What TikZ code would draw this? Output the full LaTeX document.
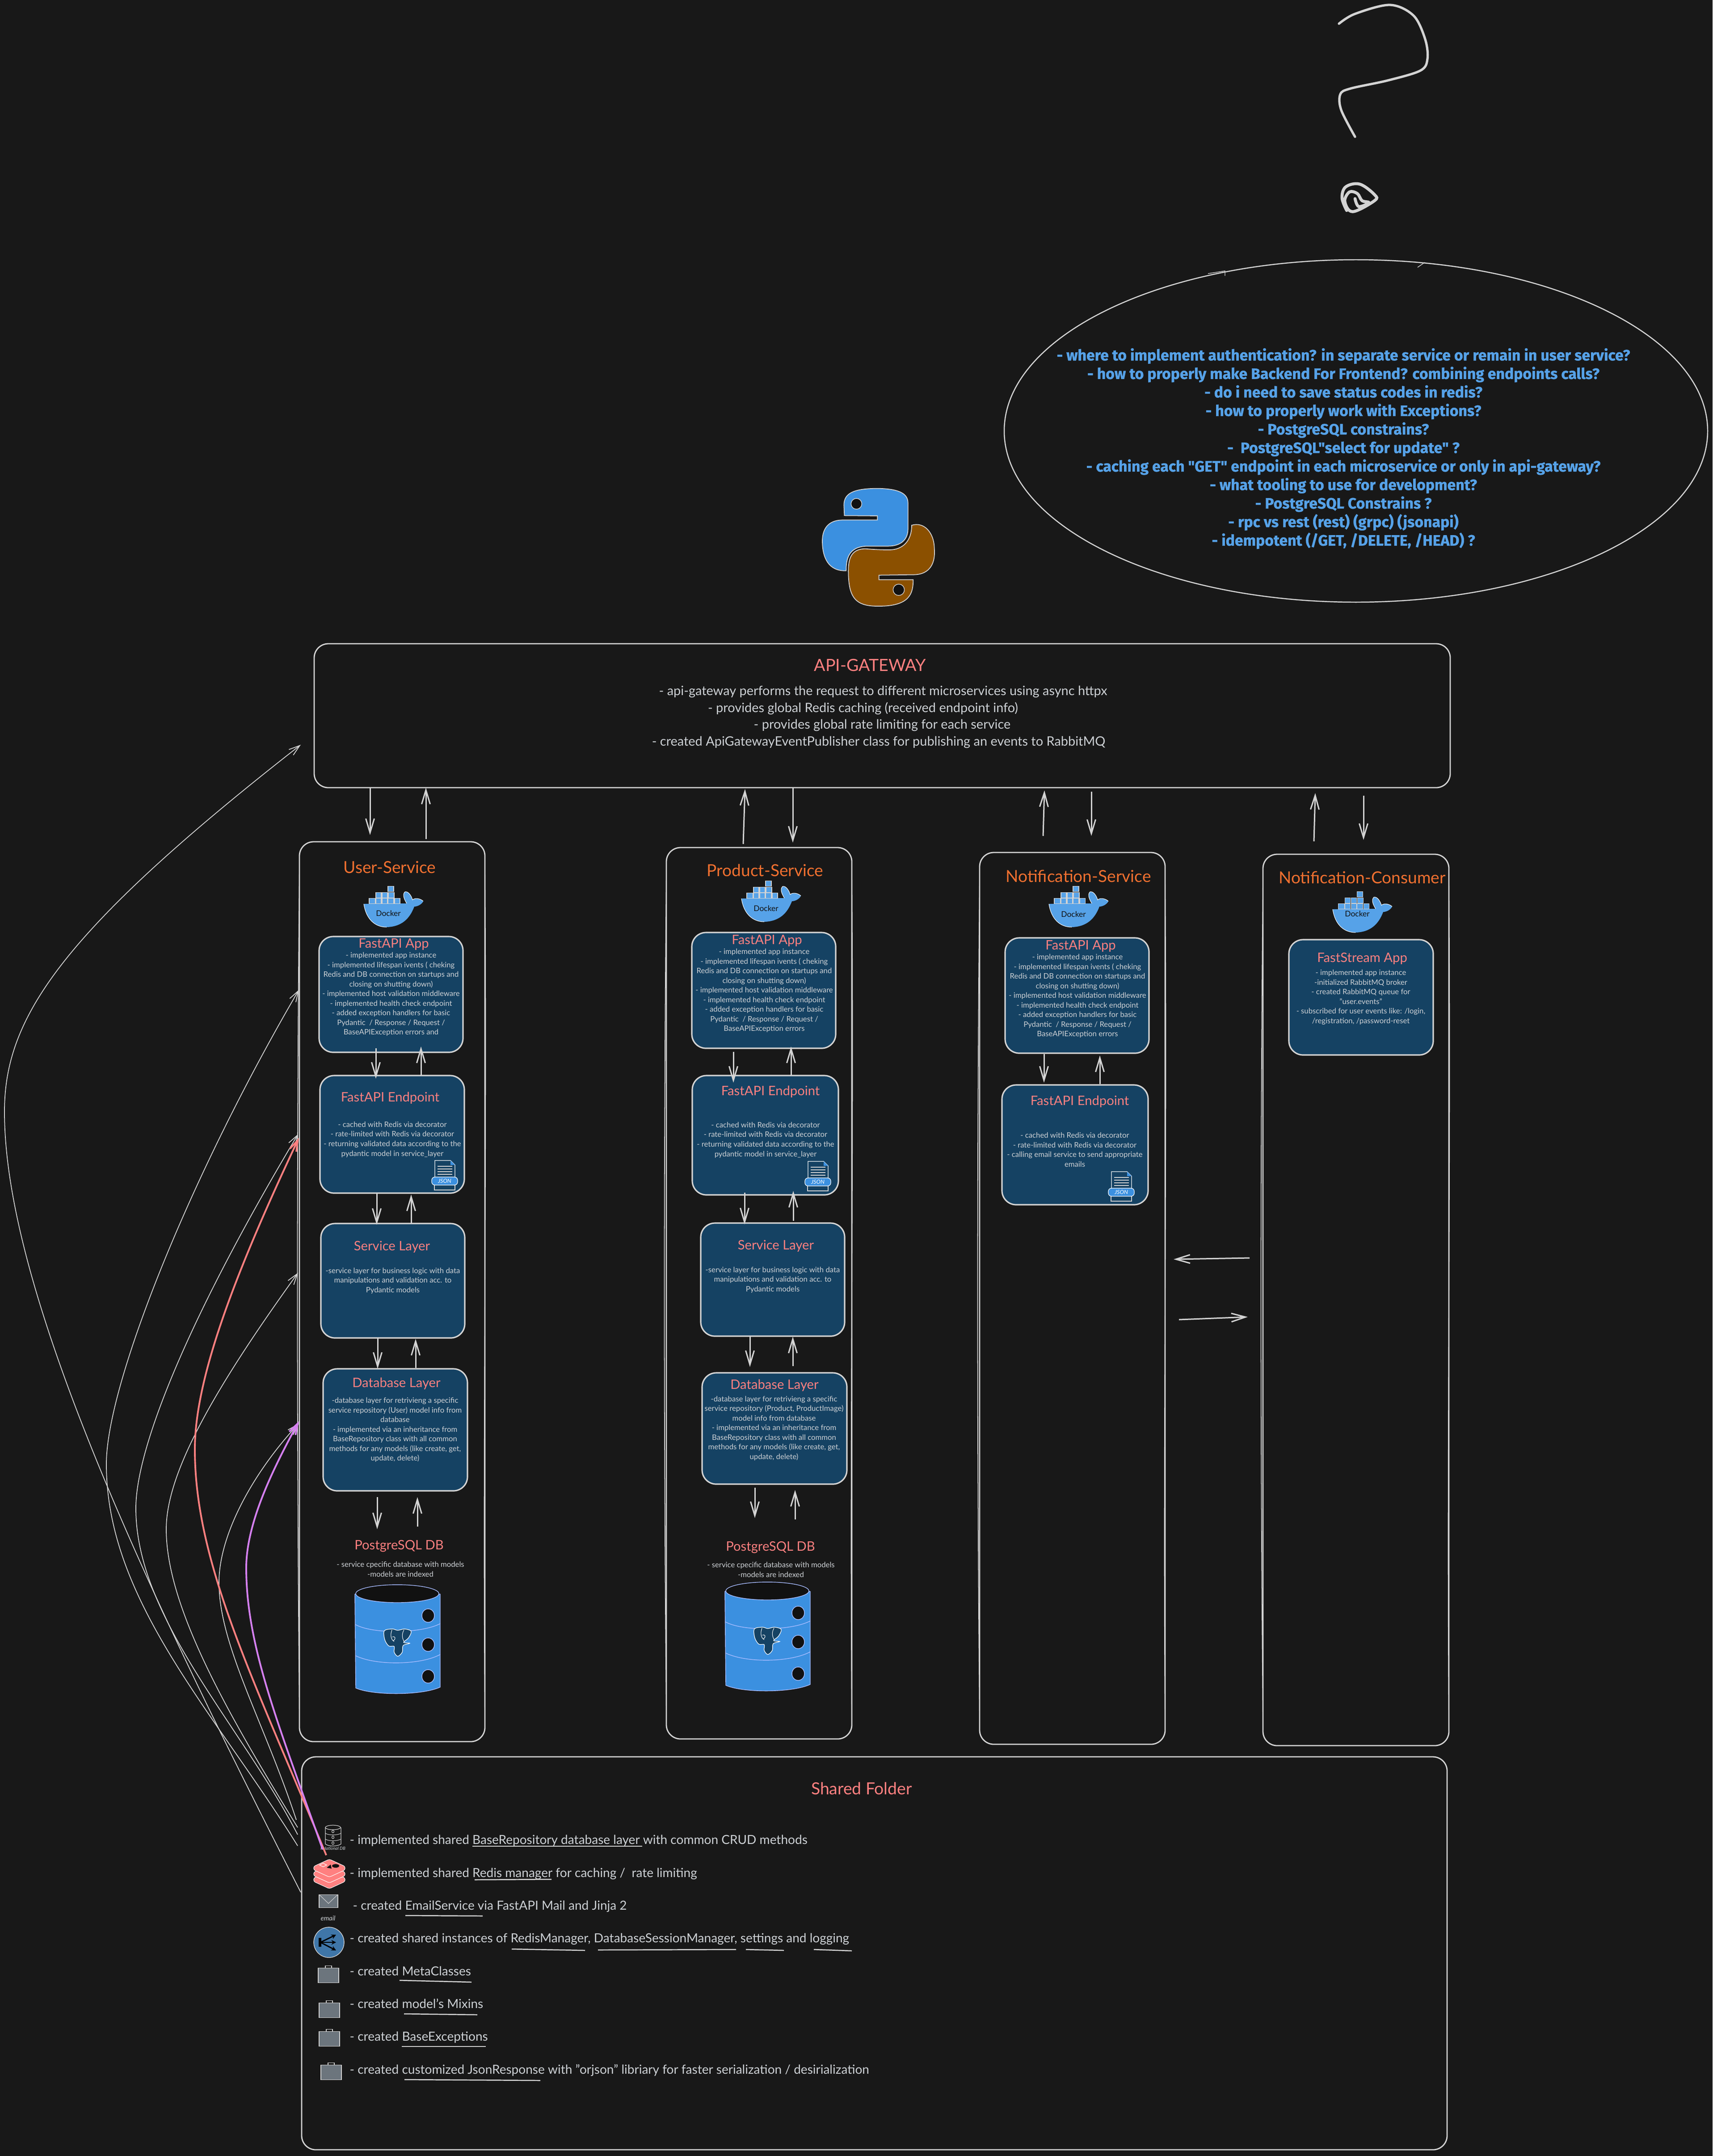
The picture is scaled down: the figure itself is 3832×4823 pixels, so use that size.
\documentclass[tikz,border=0pt]{standalone}
\usepackage{fontspec}
\usetikzlibrary{arrows.meta,calc,shapes.geometric}
\setmainfont{Lato}
\newfontfamily\qfont[FakeBold=1]{Fira Sans}
\definecolor{bgc}{HTML}{181818}
\definecolor{strk}{HTML}{D3D3D3}
\definecolor{txtc}{HTML}{CDD1D5}
\definecolor{navy}{HTML}{154263}
\definecolor{salm}{HTML}{FF8080}
\definecolor{orng}{HTML}{F07030}
\definecolor{qblue}{HTML}{56A2E8}
\definecolor{pyblue}{HTML}{3B90E0}
\definecolor{pybrown}{HTML}{8B5000}
\definecolor{lav}{HTML}{A8BCFF}
\definecolor{hole}{HTML}{111111}
\definecolor{grayic}{HTML}{6C757D}
\definecolor{purp}{HTML}{D580F0}
\definecolor{netb}{HTML}{3F76A8}
\tikzset{
  x=0.01cm,y=-0.01cm,
  contbox/.style={draw=strk,line width=.8pt,rounded corners=9pt,inner sep=0pt,outer sep=0pt},
  gatebox/.style={draw=strk,line width=.8pt,rounded corners=9pt,inner sep=0pt,outer sep=0pt},
  innerbox/.style={draw=strk,fill=navy,line width=.9pt,rounded corners=9pt,inner sep=0pt,outer sep=0pt},
  arr/.style={draw=strk,line width=.85pt,-{Straight Barb[length=9pt,width=5.4pt]}},
  crv/.style={draw=strk,line width=.5pt,-{Straight Barb[length=7pt,width=4.5pt]}},
  svctitle/.style={text=orng,inner sep=0pt,font=\fontsize{10.55}{12}\selectfont},
  boxtitle/.style={text=salm,inner sep=0pt,yshift=-.8pt,font=\fontsize{8.3}{10}\selectfont},
  bodytxt/.style={text=txtc,inner sep=0pt,align=center,font=\fontsize{4.75}{6.12}\selectfont},
  gwtxt/.style={text=txtc,inner sep=0pt,yshift=-.6pt,font=\fontsize{8.22}{10}\selectfont},
  sharedtxt/.style={text=txtc,inner sep=0pt,anchor=west,text height=7pt,text depth=2pt,font=\fontsize{7.97}{10}\selectfont},
  uline/.style={draw=strk,line width=.7pt},
  thinwhite/.style={draw=white,line width=.3pt},
}
% box by corners: style, name, l, t, r, b
\newcommand\bx[6]{\node[#1,minimum width={(#5-#3)*0.01cm},minimum height={(#6-#4)*0.01cm}] (#2) at ({(#3+#5)/2},{(#4+#6)/2}) {};}
% container with extra rough strokes
\newcommand\cont[5]{\bx{contbox}{#1}{#2}{#3}{#4}{#5}
  \draw[strk,line width=.5pt] (#2,#3+60) .. controls (#2-6,{#3+(#5-#3)/3}) and (#2-6,{#5-(#5-#3)/3}) .. (#2,#5-60);
  \draw[strk,line width=.5pt] (#4,#3+60) .. controls (#4+5,{#3+(#5-#3)/3}) and (#4-5,{#5-(#5-#3)/3}) .. (#4,#5-60);}
% connector: [opts]{from anchor}{x}{dy}{to anchor}{x}{dy}
\newcommand\conn[7][]{\draw[arr,#1] ($(#2 -| #3,0)+(0,#4)$) -- ($(#5 -| #6,0)+(0,#7)$);}
% docker whale: x, y, label dy
\newcommand\dock[3]{\begin{scope}[shift={(#1,#2)}]
  \fill[qblue] (0,41) -- (96,40) .. controls (90,30) and (86,20) .. (92,14) .. controls (100,12) and (107,24) .. (109,32) .. controls (116,26) and (128,30) .. (133,35) .. controls (130,42) and (120,47) .. (113,47) .. controls (106,65) and (92,92) .. (51,93) .. controls (25,93) and (5,75) .. (0,41) -- cycle;
  \draw[thinwhite] (0,41) .. controls (5,75) and (25,93) .. (51,93);
  \draw[thinwhite] (96,40) .. controls (90,30) and (86,20) .. (92,14) .. controls (100,12) and (107,24) .. (109,32) .. controls (116,26) and (128,30) .. (133,35);
  \foreach \a/\b/\c/\d in {12/28/26/40,27/28/39/40,41/28/53/40,54/28/67/40,69/28/81/40,27/15/39/27,41/15/53/27,55/15/68/27,54/1/67/13}
    {\draw[fill=qblue,draw=strk,line width=.3pt] (\a,\b) rectangle (\c,\d);}
  \node[text=hole,inner sep=0pt,font=\fontsize{4.95}{6}\selectfont] at (55,#3) {Docker};
\end{scope}}
% elephant
\newcommand\eleph[2]{\begin{scope}[shift={(#1,#2)}]
  \draw[fill=navy,draw=white,line width=.35pt] plot[smooth cycle,tension=.55] coordinates {(-30,-26) (-12,-30) (0,-27) (15,-30) (30,-25) (24,-10) (13,0) (27,2) (12,7) (10,22) (0,31) (-8,22) (-8,9) (-20,8) (-29,-6)};
  \draw[draw=white,line width=.3pt] (-13,-28) .. controls (-18,-15) and (-14,-5) .. (-8,-2) (-10,-4) .. controls (-3,-8) and (-6,-15) .. (-12,-12) (14,-28) .. controls (8,-18) and (10,-8) .. (15,-1);
\end{scope}}
% cylinder
\newcommand\cyl[2]{\begin{scope}[shift={(#1,#2)}]
  \draw[fill=pyblue,draw=lav,line width=.4pt] (0,22) -- (2,232) .. controls (40,249) and (150,249) .. (191,230) -- (191,22) -- cycle;
  \draw[fill=hole,draw=lav,line width=.4pt] (95,21) ellipse[x radius=93,y radius=20];
  \draw[draw=lav,line width=.4pt] (1,90) .. controls (40,112) and (150,110) .. (191,88) (2,160) .. controls (50,183) and (150,180) .. (191,157);
  \foreach \yy in {70,135,206} {\draw[fill=hole,draw=lav,line width=.4pt] (164,\yy) ellipse[x radius=14,y radius=15];}
\end{scope}}
% JSON icon
\newcommand\jsonic[2]{\begin{scope}[shift={(#1,#2)}]
  \draw[draw=strk,fill=navy,line width=.4pt] (6,52) rectangle (52,66);
  \draw[draw=white,fill=navy,line width=.4pt] (7,0) -- (42,0) -- (52,10) -- (52,45) -- (7,45) -- cycle;
  \fill[pyblue] (42,0) -- (52,10) -- (42,10) -- cycle;
  \foreach \yy in {13,19,25,31} {\draw[strk,line width=.45pt] (13,\yy) -- (46,\yy);}
  \draw[fill=pyblue,draw=white,line width=.35pt,rounded corners=2pt] (0,37) rectangle (58,55);
  \node[text=white,inner sep=0pt,font=\itshape\fontsize{3.6}{4}\selectfont] at (29,46) {JSON};
\end{scope}}
\newcommand\caseic[2]{\draw[fill=grayic,draw=strk,line width=.3pt] (#1,#2) rectangle ++(46,33);
  \draw[draw=strk,line width=.3pt] (#1+16,#2) -- (#1+16,#2-5) -- (#1+30,#2-5) -- (#1+30,#2);}
\newcommand\appbody[1]{- implemented app instance\\- implemented lifespan ivents ( cheking\\Redis and DB connection on startups and\\closing on shutting down)\\- implemented host validation middleware\\- implemented health check endpoint\\- added exception handlers for basic\\Pydantic\ \ / Response / Request /\\#1}
\newcommand\epbody{- cached with Redis via decorator\\- rate-limited with Redis via decorator\\- returning validated data according to the\\pydantic model in service\_layer}
\newcommand\svcbody{-service layer for business logic with data\\manipulations and validation acc. to\\Pydantic models}
\begin{document}
\begin{tikzpicture}
\useasboundingbox (0,0) rectangle (3832,4823);
\fill[bgc] (0,0) rectangle (3832,4823);

% question mark
\draw[strk,line width=1.5pt,line cap=round] plot[smooth,tension=.55] coordinates {(2996,53) (3032,31) (3110,11) (3163,35) (3189,88) (3194,132) (3178,158) (3105,180) (3022,198) (2999,211) (3001,246) (3032,306)};
\begin{scope}[shift={(2200,0)},xscale=1.04,yscale=.88]
\draw[strk,line width=1.9pt,line cap=round] plot[smooth,tension=.6] coordinates {(782,535) (772,503) (780,475) (810,468) (842,495) (842,510) (795,538) (778,512) (788,488) (805,492) (815,510) (830,515) (808,525) (800,505)};
\end{scope}

% question ellipse
\draw[strk,line width=.7pt] (3034,964) ellipse[x radius=787,y radius=383];
\draw[strk,line width=.4pt] (2703,612) -- (2741,606) -- (2741,617) (3172,598) -- (3188,587);
\node[text=qblue,inner sep=0pt,align=center,font=\qfont\bfseries\fontsize{9.6}{11.78}\selectfont] (questions) at (3006,1003.5) {- where to implement authentication? in separate service or remain in user service?\\- how to properly make Backend For Frontend? combining endpoints calls?\\- do i need to save status codes in redis?\\- how to properly work with Exceptions?\\- PostgreSQL constrains?\\-\ \ PostgreSQL"select for update" ?\\- caching each "GET" endpoint in each microservice or only in api-gateway?\\- what tooling to use for development?\\- PostgreSQL Constrains ?\\- rpc vs rest (rest) (grpc) (jsonapi)\\- idempotent (/GET, /DELETE, /HEAD) ?};

% python logo
\begin{scope}[shift={(1750,1050)},scale=1/3]
\draw[fill=pyblue,draw=strk,line width=.5pt] (418,310) -- (640,312) -- (640,340) -- (400,340) .. controls (310,342) and (270,400) .. (270,480) .. controls (270,590) and (310,685) .. (430,680) .. controls (430,610) and (440,518) .. (570,515) -- (710,515) .. controls (800,515) and (845,470) .. (845,400) -- (845,225) .. controls (845,160) and (780,128) .. (630,128) .. controls (480,130) and (415,160) .. (415,240) -- cycle;
\draw[fill=pybrown,draw=strk,line width=.5pt] (650,710) -- (650,740) -- (880,740) .. controls (880,830) and (860,918) .. (650,918) .. controls (490,920) and (445,860) .. (445,680) .. controls (445,590) and (470,533) .. (560,533) .. controls (640,540) and (700,540) .. (720,540) .. controls (810,540) and (870,480) .. (870,375) .. controls (950,350) and (1020,420) .. (1022,530) .. controls (1030,620) and (1000,707) .. (880,707) -- cycle;
\draw[fill=hole,draw=strk,line width=.4pt] (499,231) circle[radius=36];
\draw[fill=hole,draw=strk,line width=.4pt] (783,808) circle[radius=38];
\end{scope}

% gateway
\bx{gatebox}{gw}{703}{1440}{3245}{1762}
\node[text=salm,inner sep=0pt,font=\fontsize{10.7}{12}\selectfont] (gwt) at (1947,1488) {API-GATEWAY};
\node[gwtxt] (gw1) at (1976,1545) {- api-gateway performs the request to different microservices using async httpx};
\node[gwtxt] (gw2) at (1931,1583) {- provides global Redis caching (received endpoint info)};
\node[gwtxt] (gw3) at (1974,1620) {- provides global rate limiting for each service};
\node[gwtxt] (gw4) at (1966,1658) {- created ApiGatewayEventPublisher class for publishing an events to RabbitMQ};

% containers
\cont{uBox}{670}{1883}{1085}{3896}
\cont{pBox}{1491}{1896}{1906}{3890}
\cont{nBox}{2192}{1907}{2607}{3902}
\cont{cBox}{2826}{1911}{3242}{3905}
\node[svctitle] (uT) at (872,1940) {User-Service};
\node[svctitle] (pT) at (1712,1947) {Product-Service};
\node[svctitle] (nT) at (2413,1960) {Notification-Service};
\node[svctitle] (cT) at (3048,1963) {Notification-Consumer};
\dock{814}{1981}{62}
\dock{1659}{1969}{63}
\dock{2347}{1981}{64}
\dock{2982}{1993}{51}

% user column
\bx{innerbox}{uApp}{714}{2095}{1036}{2354}
\bx{innerbox}{uEp}{716}{2406}{1039}{2669}
\bx{innerbox}{uSvc}{718}{2737}{1040}{2993}
\bx{innerbox}{uDb}{723}{3062}{1046}{3335}
\node[boxtitle] at (881,2110) {FastAPI App};
\node[bodytxt] at (875,2224) {\appbody{BaseAPIException errors and}};
\node[boxtitle] at (873,2453) {FastAPI Endpoint};
\node[bodytxt] at (878,2549) {\epbody};
\node[boxtitle] at (877,2787) {Service Layer};
\node[bodytxt] at (879,2865) {\svcbody};
\node[boxtitle] at (887,3092) {Database Layer};
\node[bodytxt] at (884,3198.5) {-database layer for retrivieng a specific\\service repository (User) model info from\\database\\- implemented via an inheritance from\\BaseRepository class with all common\\methods for any models (like create, get,\\update, delete)};
\node[boxtitle] (uPg) at (893,3456) {PostgreSQL DB};
\node[bodytxt] at (896,3510.5) {- service cpecific database with models\\-models are indexed};
\cyl{794}{3544}
\eleph{890}{3674}
\jsonic{966}{2596}

% product column
\bx{innerbox}{pApp}{1548}{2086}{1870}{2345}
\bx{innerbox}{pEp}{1549}{2406}{1876}{2673}
\bx{innerbox}{pSvc}{1568}{2736}{1890}{2989}
\bx{innerbox}{pDb}{1571}{3071}{1895}{3320}
\node[boxtitle] at (1716,2102) {FastAPI App};
\node[bodytxt] at (1710,2216) {\appbody{BaseAPIException errors}};
\node[boxtitle] at (1724,2439) {FastAPI Endpoint};
\node[bodytxt] at (1713,2550) {\epbody};
\node[boxtitle] at (1736,2785) {Service Layer};
\node[bodytxt] at (1729,2863) {\svcbody};
\node[boxtitle] at (1733,3096) {Database Layer};
\node[bodytxt] at (1732,3195) {-database layer for retrivieng a specific\\service repository (Product, ProductImage)\\model info from database\\- implemented via an inheritance from\\BaseRepository class with all common\\methods for any models (like create, get,\\update, delete)};
\node[boxtitle] (pPg) at (1724,3459) {PostgreSQL DB};
\node[bodytxt] at (1725,3511.5) {- service cpecific database with models\\-models are indexed};
\cyl{1622}{3538}
\eleph{1718}{3670}
\jsonic{1801}{2598}

% notification column
\bx{innerbox}{nApp}{2249}{2098}{2571}{2356}
\bx{innerbox}{nEp}{2242}{2427}{2569}{2695}
\node[boxtitle] at (2418,2114) {FastAPI App};
\node[bodytxt] at (2411,2228) {\appbody{BaseAPIException errors}};
\node[boxtitle] at (2416,2461) {FastAPI Endpoint};
\node[bodytxt] at (2405,2572) {- cached with Redis via decorator\\- rate-limited with Redis via decorator\\- calling email service to send appropriate\\emails};
\jsonic{2480}{2621}

% consumer
\bx{innerbox}{cApp}{2884}{2102}{3207}{2360}
\node[boxtitle] at (3048,2142) {FastStream App};
\node[bodytxt] at (3045,2231) {- implemented app instance\\-initialized RabbitMQ broker\\- created RabbitMQ queue for\\"user.events"\\- subscribed for user events like: /login,\\/registration, /password-reset};

% connectors
\conn{gw.south}{828}{0}{uBox.north}{828}{-15}
\conn{uBox.north}{953}{-6}{gw.south}{953}{0}
\conn{uApp.south}{841}{-9}{uEp.north}{841}{7}
\conn{uEp.north}{942}{1}{uApp.south}{942}{-13}
\conn{uEp.south}{843}{1}{uSvc.north}{843}{3}
\conn{uSvc.north}{920}{-1}{uEp.south}{920}{3}
\conn{uSvc.south}{845}{1}{uDb.north}{845}{0}
\conn{uDb.north}{930}{-2}{uSvc.south}{930}{2}
\conn{uDb.south}{844}{14}{uPg.north}{844}{-24}
\conn{uPg.north}{934}{-30}{uDb.south}{934}{14}

\conn{pBox.north}{1663}{-8}{gw.south}{1667}{3}
\conn{gw.south}{1774}{1}{pBox.north}{1774}{-11}
\conn{pApp.south}{1641}{8}{pEp.north}{1641}{16}
\conn{pEp.north}{1770}{1}{pApp.south}{1770}{-4}
\conn{pEp.south}{1666}{-5}{pSvc.north}{1666}{3}
\conn{pSvc.north}{1775}{-5}{pEp.south}{1775}{-9}
\conn{pSvc.south}{1678}{1}{pDb.north}{1678}{-13}
\conn{pDb.north}{1774}{-15}{pSvc.south}{1774}{1}
\conn{pDb.south}{1689}{8}{pPg.north}{1689}{-52}
\conn{pPg.north}{1779}{-49}{pDb.south}{1779}{13}

\conn{nBox.north}{2334}{-37}{gw.south}{2337}{6}
\conn{gw.south}{2442}{9}{nBox.north}{2442}{-37}
\conn{cBox.north}{2940}{-29}{gw.south}{2943}{12}
\conn{gw.south}{3051}{18}{cBox.north}{3051}{-32}
\conn{nApp.south}{2336}{2}{nEp.north}{2336}{-5}
\conn{nEp.north}{2461}{-2}{nApp.south}{2461}{5}

\draw[arr] ($(cBox.west |- 0,2814)+(-30,0)$) -- ($(nBox.east |- 0,2817)+(19,0)$);
\draw[arr] ($(nBox.east |- 0,2952)+(31,0)$) -- ($(cBox.west |- 0,2946)+(-34,0)$);

% shared folder
\bx{contbox}{shBox}{675}{3930}{3238}{4809}
\node[text=salm,inner sep=0pt,font=\fontsize{10.6}{12}\selectfont] at (1928,4001) {Shared Folder};
\node[sharedtxt] (s1) at (782,4117) {- implemented shared BaseRepository database layer with common CRUD methods};
\node[sharedtxt] (s2) at (782,4191) {- implemented shared Redis manager for caching /\ \ rate limiting};
\node[sharedtxt] (s3) at (789,4264) {- created EmailService via FastAPI Mail and Jinja 2};
\node[sharedtxt] (s4) at (782,4337) {- created shared instances of RedisManager, DatabaseSessionManager, settings and logging};
\node[sharedtxt] (s5) at (782,4411) {- created MetaClasses};
\node[sharedtxt] (s6) at (782,4484) {- created model's Mixins};
\node[sharedtxt] (s7) at (782,4557) {- created BaseExceptions};
\node[sharedtxt] (s8) at (782,4631) {- created customized JsonResponse with "orjson" libriary for faster serialization / desirialization};
\draw[uline] (1057,4130) -- (1437,4130);
\draw[uline] (1062,4205) -- (1234,4204);
\draw[uline] (907,4285) -- (1080,4286);
\draw[uline] (1145,4360) -- (1309,4363);
\draw[uline] (1338,4362) -- (1647,4361);
\draw[uline] (1669,4361) -- (1754,4363);
\draw[uline] (1821,4361) -- (1906,4364);
\draw[uline] (894,4430) -- (1055,4434);
\draw[uline] (904,4505) -- (1068,4507);
\draw[uline] (899,4578) -- (1087,4578);
\draw[uline] (905,4652) -- (1209,4654);

% shared icons
\begin{scope}[shift={(727,4083)}]
\draw[strk,line width=.35pt] (1,5) -- (1,42) .. controls (8,48) and (28,48) .. (36,42) -- (36,5);
\draw[strk,line width=.35pt] (18,5) ellipse[x radius=17,y radius=5];
\draw[strk,line width=.3pt] (1,18) .. controls (8,23) and (28,23) .. (36,18) (1,31) .. controls (8,36) and (28,36) .. (36,31);
\foreach \yy in {14,27,40} {\draw[strk,line width=.3pt] (18,\yy) ellipse[x radius=2.5,y radius=3];}
\end{scope}
\node[text=txtc,inner sep=0pt,font=\itshape\fontsize{2.8}{3}\selectfont] at (745,4135) {Relational DB};
\begin{scope}[shift={(737,4175)}]
\foreach \yy in {26,13,0} {\draw[fill=salm,draw=white,line width=.3pt,rounded corners=1pt] (-35,\yy) -- (0,\yy-16) -- (35,\yy) -- (35,\yy+8) -- (0,\yy+24) -- (-35,\yy+8) -- cycle;}
\fill[hole] (14,-1) ellipse[x radius=8,y radius=4];
\fill[hole] (-6,3) -- (3,-4) -- (5,5) -- cycle;
\draw[white,line width=.3pt] (-22,-3) -- (-14,-7) -- (-6,-3) -- (-14,1) -- cycle;
\end{scope}
\draw[fill=grayic,draw=strk,line width=.3pt] (714,4238) rectangle (756,4267);
\draw[strk,line width=.3pt] (714,4238) -- (735,4258) -- (756,4238);
\node[text=txtc,inner sep=0pt,font=\itshape\fontsize{4.2}{5}\selectfont] at (734,4291) {email};
\node[ellipse,draw=strk,fill=netb,line width=.4pt,inner sep=0pt,outer sep=0pt,minimum width=19.3pt,minimum height=19.3pt] (netIc) at (736,4345) {};
\coordinate (hub) at (717,4345);
\foreach \yy in {4328,4345,4363} {\draw[black,line width=.8pt,-{Stealth[length=3pt,width=3pt]}] (hub) -- (752,\yy);}
\fill[black] (713,4335) rectangle (719,4355);
\caseic{712}{4402}
\caseic{714}{4480}
\caseic{714}{4544}
\caseic{718}{4619}

% long curved connectors
\coordinate (c1s) at (673,4233); \coordinate (c1a) at (10,2487); \coordinate (c1e) at (673,1666);
\coordinate (c2s) at (666,4129); \coordinate (c2a) at (238,3275); \coordinate (c2e) at (669,2214);
\coordinate (c3s) at (666,4104); \coordinate (c3a) at (304,3374); \coordinate (c3e) at (667,2537);
\coordinate (c4s) at (666,4088); \coordinate (c4a) at (372,3421); \coordinate (c4e) at (667,2847);
\coordinate (c5s) at (663,4071); \coordinate (c5a) at (490,3540); \coordinate (c5e) at (669,3184);
\coordinate (c6s) at (730,4150); \coordinate (c6a) at (436,3242); \coordinate (c6e) at (669,2545);
\coordinate (c7s) at (722,4137); \coordinate (c7a) at (551,3507); \coordinate (c7e) at (669,3179);
\draw[crv] (c1s) .. controls (350,3600) and (10,2900) .. (c1a) .. controls (10,2280) and (130,2090) .. (c1e);
\draw[crv] (c2s) .. controls (480,3830) and (238,3580) .. (c2a) .. controls (238,3100) and (420,2640) .. (c2e);
\draw[crv] (c3s) .. controls (540,3860) and (304,3620) .. (c3a) .. controls (304,3240) and (420,2950) .. (c3e);
\draw[crv] (c4s) .. controls (520,3850) and (372,3600) .. (c4a) .. controls (372,3300) and (470,3120) .. (c4e);
\draw[crv] (c5s) .. controls (590,3850) and (490,3680) .. (c5a) .. controls (490,3430) and (570,3290) .. (c5e);
\draw[crv,draw=salm,line width=1.1pt] (c6s) .. controls (570,3760) and (436,3500) .. (c6a) .. controls (436,3080) and (530,2840) .. (c6e);
\draw[crv,draw=purp,line width=1.1pt] (c7s) .. controls (620,3850) and (551,3680) .. (c7a) .. controls (551,3400) and (620,3270) .. (c7e);
\end{tikzpicture}
\end{document}
